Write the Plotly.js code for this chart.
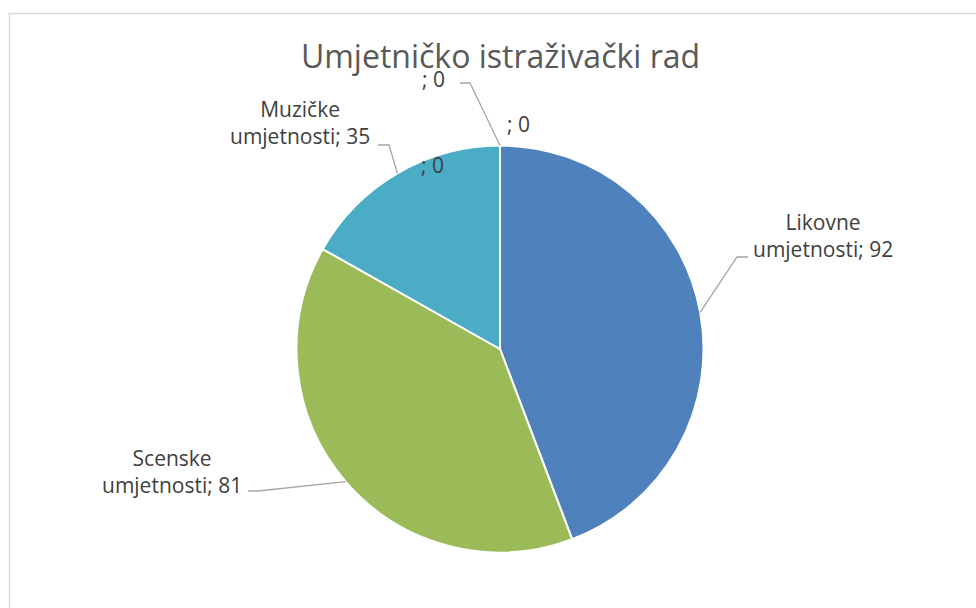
<!DOCTYPE html>
<html>
<head>
<meta charset="utf-8">
<script src="https://cdn.plot.ly/plotly-3.0.1.min.js"></script>
<style>html,body{margin:0;padding:0;background:#fff;}#chart{width:976px;height:608px;}</style>
</head>
<body>
<div id="chart"></div>
<script>
// Data
const categories = ["Likovne umjetnosti", "Scenske umjetnosti", "Muzičke umjetnosti", "", "", ""];
const values = [92, 81, 35, 0, 0, 0];
const colors = ["#4f81bd", "#9bbb59", "#4bacc6", "#f79646", "#8064a2", "#c0504d"];
const chartTitle = "Umjetničko istraživački rad";

// Layout helpers (pixel -> paper)
const W = 976, H = 608;
const cx = 500, cy = 349, R = 203.5;
const px = x => x / W;
const py = y => 1 - y / H;

// label placement (anchor centres and leader elbows/ends), per category index
const labelPos = [
  {x: 823, y: 236, elbow: [737, 257], end: [748, 257]},
  {x: 172, y: 471, elbow: [258, 491], end: [248, 491]},
  {x: 300, y: 123, elbow: [389, 145], end: [378, 145]},
  {x: 433, y: 79, elbow: [470, 83], end: [460, 83]},
  {x: 518, y: 124},
  {x: 432, y: 165}
];

const total = values.reduce((a, b) => a + b, 0);
let cum = 0;
const annotations = [];
const shapes = [];
const font = "Open Sans, Noto Sans, sans-serif";
values.forEach((v, i) => {
  const mid = (cum + v / 2) / total * 2 * Math.PI;
  cum += v;
  const sx = cx + R * Math.sin(mid), sy = cy - R * Math.cos(mid);
  const name = categories[i];
  const txt = (name ? name.replace(" ", "<br>") : "") + "; " + v;
  const p = labelPos[i];
  annotations.push({
    xref: "paper", yref: "paper", x: px(p.x), y: py(p.y),
    xanchor: "center", yanchor: "middle", showarrow: false,
    text: txt, align: "center",
    font: {family: font, size: 21, color: "#404040"}
  });
  if (p.elbow) {
    shapes.push({
      type: "path", xref: "paper", yref: "paper",
      path: `M ${px(sx)},${py(sy)} L ${px(p.elbow[0])},${py(p.elbow[1])} L ${px(p.end[0])},${py(p.end[1])}`,
      line: {color: "#a6a6a6", width: 1.3}
    });
  }
});

// chart border
shapes.push({type: "rect", xref: "paper", yref: "paper",
  x0: px(9.5), y0: py(13.5), x1: px(1000), y1: py(640),
  line: {color: "#d9d9d9", width: 1.5}, fillcolor: "rgba(0,0,0,0)"});

const trace = {
  type: "pie",
  labels: categories.map((c, i) => c || ("_" + i)),
  values: values,
  sort: false,
  direction: "clockwise",
  rotation: 0,
  textinfo: "none",
  hoverinfo: "label+value",
  marker: {colors: colors, line: {color: "#ffffff", width: 2}},
  domain: {x: [px(cx - R), px(cx + R)], y: [py(cy + R), py(cy - R)]},
  showlegend: false
};

const layout = {
  width: W, height: H,
  margin: {l: 0, r: 0, t: 0, b: 0},
  paper_bgcolor: "#ffffff",
  showlegend: false,
  title: {text: chartTitle, x: px(500.5), xanchor: "center", y: py(57), yanchor: "middle",
          font: {family: font, size: 32, color: "#595959"}},
  annotations: annotations,
  shapes: shapes
};

Plotly.newPlot("chart", [trace], layout, {displayModeBar: false, staticPlot: true});
</script>
</body>
</html>
